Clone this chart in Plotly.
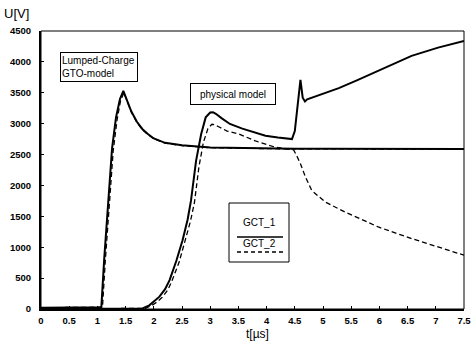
import plotly.graph_objects as go

# ---------------- data ----------------
# Lumped-Charge GTO-model, GCT_1 (solid)
lc1_t = [0, 0.5, 1.0, 1.07, 1.12, 1.19, 1.26, 1.33, 1.40, 1.46, 1.52, 1.6, 1.7, 1.8, 1.9, 2.0, 2.2, 2.5, 3.0, 3.5, 4.0, 4.5, 5.0, 6.0, 7.0, 7.5]
lc1_v = [20, 20, 20, 30, 800, 1750, 2600, 3100, 3400, 3530, 3380, 3200, 3030, 2910, 2830, 2760, 2690, 2650, 2615, 2605, 2600, 2595, 2592, 2590, 2590, 2590]

# Lumped-Charge GTO-model, GCT_2 (dashed)
lc2_t = [0, 0.5, 1.0, 1.09, 1.14, 1.21, 1.28, 1.35, 1.41, 1.47, 1.53, 1.6, 1.7, 1.8, 1.9, 2.0, 2.2, 2.5, 3.0, 3.5, 4.0, 4.5, 5.0, 6.0, 7.0, 7.5]
lc2_v = [20, 20, 20, 30, 780, 1720, 2560, 3070, 3370, 3500, 3370, 3190, 3020, 2900, 2820, 2755, 2685, 2645, 2612, 2600, 2596, 2592, 2590, 2588, 2588, 2588]

# Physical model, GCT_1 (solid)
ph1_t = [0, 1.0, 1.8, 1.92, 2.0, 2.1, 2.2, 2.28, 2.4, 2.51, 2.6, 2.66, 2.75, 2.84, 2.92, 3.0, 3.05, 3.1, 3.2, 3.35, 3.57, 3.8, 3.98, 4.2, 4.45, 4.5, 4.55, 4.6, 4.64, 4.68, 4.72, 4.8, 5.0, 5.28, 5.6, 5.98, 6.3, 6.57, 7.04, 7.42, 7.5]
ph1_v = [0, 0, 10, 60, 120, 200, 320, 468, 780, 1113, 1450, 1758, 2403, 2833, 3102, 3180, 3185, 3160, 3090, 2995, 2919, 2850, 2806, 2775, 2750, 2880, 3250, 3710, 3420, 3360, 3395, 3420, 3480, 3576, 3700, 3855, 3980, 4097, 4231, 4327, 4340]

# Physical model, GCT_2 (dashed)
ph2_t = [0, 1.0, 1.85, 1.95, 2.05, 2.15, 2.25, 2.32, 2.45, 2.55, 2.65, 2.72, 2.8, 2.88, 2.96, 3.03, 3.07, 3.15, 3.3, 3.51, 3.8, 4.16, 4.4, 4.48, 4.55, 4.6, 4.69, 4.8, 5.04, 5.39, 5.98, 6.57, 7.04, 7.5]
ph2_v = [0, 0, 10, 50, 110, 190, 310, 450, 760, 1090, 1420, 1720, 2300, 2700, 2920, 2990, 2984, 2950, 2880, 2833, 2720, 2618, 2580, 2575, 2450, 2350, 2134, 1919, 1731, 1570, 1328, 1140, 1005, 871]

x_ticks = [0, 0.5, 1, 1.5, 2, 2.5, 3, 3.5, 4, 4.5, 5, 5.5, 6, 6.5, 7, 7.5]
y_ticks = [0, 500, 1000, 1500, 2000, 2500, 3000, 3500, 4000, 4500]

legend_names = ["GCT_1", "GCT_2"]
box_lumped = "Lumped-Charge<br>GTO-model"
box_physical = "physical model"

# ---------------- figure ----------------
FONT = "Liberation Sans, Arial, sans-serif"
fig = go.Figure()

solid = dict(color="black", width=2)
dashed = dict(color="black", width=1.3, dash="5px,3px")

fig.add_trace(go.Scatter(x=lc2_t, y=lc2_v, mode="lines", line=dashed, name="GCT_2", showlegend=False))
fig.add_trace(go.Scatter(x=ph2_t, y=ph2_v, mode="lines", line=dashed, name="GCT_2", showlegend=False))
fig.add_trace(go.Scatter(x=lc1_t, y=lc1_v, mode="lines", line=solid, name="GCT_1", showlegend=False))
fig.add_trace(go.Scatter(x=ph1_t, y=ph1_v, mode="lines", line=solid, name="GCT_1", showlegend=False))

axis_common = dict(
    showgrid=False, zeroline=False, showline=True, linecolor="black", linewidth=2,
    ticks="inside", ticklen=3, tickwidth=1, tickcolor="black", automargin=False,
    tickfont=dict(family=FONT, size=9.5, color="black", weight="bold"),
)

fig.update_xaxes(range=[0, 7.5], tickvals=x_ticks, ticktext=[f"{v:g}" for v in x_ticks],
                 ticklabelstandoff=2, **axis_common)
fig.update_yaxes(range=[0, 4500], tickvals=y_ticks, ticktext=[str(v) for v in y_ticks],
                 ticklabelstandoff=6, **axis_common)

# thin frame (top & right)
fig.add_shape(type="rect", xref="paper", yref="paper", x0=0, y0=0, x1=1, y1=1,
              line=dict(color="black", width=1))

L, R, T, B = 41, 464, 31, 309


def px_x(p):
    return (p - L) / (R - L)


def px_y(p):
    return (B - p) / (B - T)


def note(xp, yp, text, **kw):
    font = kw.pop("font", dict(family=FONT, size=10, color="black"))
    fig.add_annotation(xref="paper", yref="paper", x=px_x(xp), y=px_y(yp), text=text,
                       showarrow=False, xanchor="center", yanchor="middle", font=font, **kw)


# annotation boxes
note(99, 66.5, box_lumped, align="left", width=74, height=26,
     bordercolor="black", borderwidth=1, borderpad=1, bgcolor="white")
note(233, 94, box_physical, align="center", width=82, height=18,
     bordercolor="black", borderwidth=1, borderpad=1, bgcolor="white")

# custom legend box
fig.add_shape(type="rect", xref="paper", yref="paper",
              x0=px_x(229), x1=px_x(289), y0=px_y(262), y1=px_y(203),
              line=dict(color="black", width=1), fillcolor="white", layer="above")
note(259, 223, legend_names[0])
note(259, 243, legend_names[1])
fig.add_shape(type="line", xref="paper", yref="paper",
              x0=px_x(237), x1=px_x(283), y0=px_y(237), y1=px_y(237),
              line=dict(color="black", width=1.5), layer="above")
fig.add_shape(type="line", xref="paper", yref="paper",
              x0=px_x(237), x1=px_x(283), y0=px_y(252), y1=px_y(252),
              line=dict(color="black", width=1.3, dash="4px,3px"), layer="above")

# axis titles
note(16, 14, "U[V]", font=dict(family=FONT, size=13, color="black"))
note(257, 334, "t[µs]", font=dict(family=FONT, size=12, color="black"))

fig.update_layout(
    width=473, height=342,
    margin=dict(l=L, r=473 - R, t=T, b=342 - B),
    paper_bgcolor="white", plot_bgcolor="white",
    showlegend=False,
)

fig.write_html("out.html", config={"displayModeBar": False},
               post_script="document.body.style.margin='0';document.body.style.overflow='hidden';")
